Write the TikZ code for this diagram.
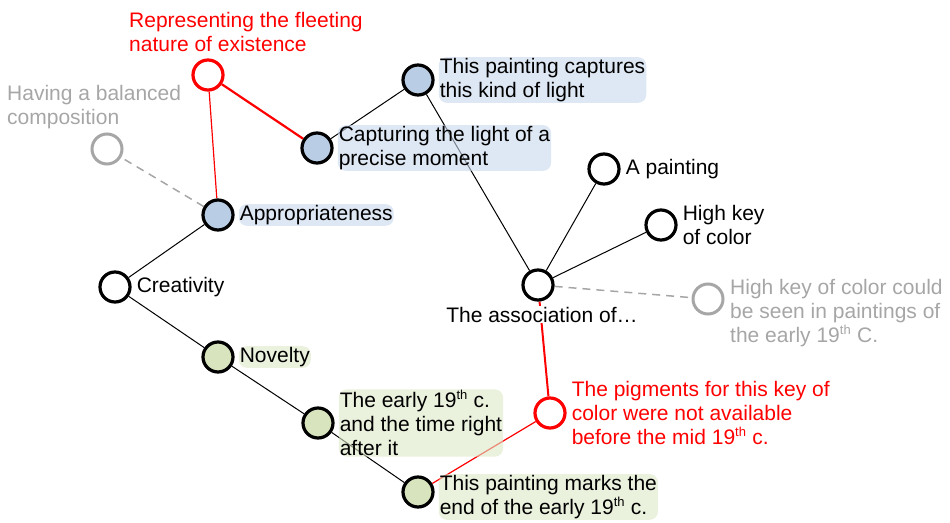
\documentclass[tikz,border=0pt]{standalone}
\usepackage{fontspec}
\setmainfont{Liberation Sans}
\usetikzlibrary{positioning,shadows,backgrounds}

\definecolor{bluefill}{RGB}{185,205,229}
\definecolor{greenfill}{RGB}{215,228,189}
\definecolor{glowblue}{RGB}{200,215,236}
\definecolor{glowgreen}{RGB}{220,231,198}
\definecolor{faded}{RGB}{166,166,166}

\tikzset{
  idea/.style={circle, draw=black, line width=3.2pt, minimum size=30pt, inner sep=0pt, fill=white,
    drop shadow={shadow xshift=1pt, shadow yshift=-1.5pt, opacity=0.25}},
  blueidea/.style={idea, fill=bluefill},
  greenidea/.style={idea, fill=greenfill},
  redidea/.style={idea, draw=red},
  grayidea/.style={circle, draw=faded, line width=3pt, minimum size=30pt, inner sep=0pt, fill=white},
  lbl/.style={align=left, inner sep=1pt, font=\fontsize{21}{24}\selectfont},
  bluelbl/.style={lbl, fill=glowblue, fill opacity=0.6, text opacity=1, rounded corners=8pt},
  greenlbl/.style={lbl, fill=glowgreen, fill opacity=0.6, text opacity=1, rounded corners=8pt},
  redlbl/.style={lbl, text=red},
  graylbl/.style={lbl, text=faded},
  link/.style={line width=1pt},
  redlink/.style={red, line width=1.5pt},
  graylink/.style={faded, dashed, dash pattern=on 8pt off 6pt, line width=1.5pt}
}
\newcommand{\nth}{\textsuperscript{\fontsize{13}{13}\selectfont th}}

\begin{document}
\begin{tikzpicture}[x=1pt,y=-1pt]
\useasboundingbox (0,0) rectangle (950,522);

% ideas
\node[redidea]   (fleet) at (208,75) {};
\node[grayidea]  (balance) at (107,149) {};
\node[blueidea]  (approp) at (218,215) {};
\node[idea]      (creat) at (115,287) {};
\node[greenidea] (novel) at (218,357) {};
\node[greenidea] (early) at (318,423) {};
\node[greenidea] (marks) at (418,492) {};
\node[blueidea]  (moment) at (317,148) {};
\node[blueidea]  (light) at (418,80) {};
\node[idea]      (assoc) at (538,285) {};
\node[idea]      (paint) at (604,169) {};
\node[idea]      (highkey) at (661,225) {};
\node[grayidea]  (seen) at (708,299) {};
\node[redidea]   (pigment) at (550,413) {};

% labels
\node[redlbl, anchor=west] (fleetlbl) at (128,32) {Representing the fleeting\\nature of existence};
\node[graylbl, anchor=west] (balancelbl) at (6,107) {Having a balanced\\composition};
\node[bluelbl, right=4pt of approp] (approplbl) {Appropriateness};
\node[lbl, right=4pt of creat] (creatlbl) {Creativity};
\node[greenlbl, right=4pt of novel] (novellbl) {Novelty};
\node[greenlbl, right=4pt of early] (earlylbl) {The early 19\nth{} c.\\and the time right\\after it};
\node[greenlbl, right=4pt of marks, yshift=-5pt] (markslbl) {This painting marks the\\end of the early 19\nth{} c.};
\node[bluelbl, right=4pt of moment] (momentlbl) {Capturing the light of a\\precise moment};
\node[bluelbl, right=4pt of light] (lightlbl) {This painting captures\\this kind of light};
\node[lbl, fill=white, below=4pt of assoc, xshift=4pt] (assoclbl) {The association of…};
\node[lbl, right=4pt of paint] (paintlbl) {A painting};
\node[lbl, right=4pt of highkey] (highkeylbl) {High key\\of color};
\node[graylbl, anchor=west] (seenlbl) at (729,313) {High key of color could\\be seen in paintings of\\the early 19\nth{} C.};
\node[redlbl, right=4pt of pigment] (pigmentlbl) {The pigments for this key of\\color were not available\\before the mid 19\nth{} c.};

% links
\begin{scope}[on background layer]
\draw[link] (creat) -- (approp);
\draw[link] (creat) -- (novel);
\draw[link] (novel) -- (early);
\draw[link] (early) -- (marks);
\draw[link] (moment) -- (light);
\draw[link] (light) -- (assoc);
\draw[link] (assoc) -- (paint);
\draw[link] (assoc) -- (highkey);
\draw[graylink] (approp) -- (balance);
\draw[graylink] (assoc) -- (seen);
\draw[redlink, line width=1.2pt] (approp) -- (fleet);
\draw[redlink, line width=2.2pt] (fleet) -- (moment);
\draw[redlink, line width=2pt] (assoc) -- (pigment);
\draw[redlink, line width=1.2pt] (pigment) -- (marks);
\end{scope}
\end{tikzpicture}
\end{document}
